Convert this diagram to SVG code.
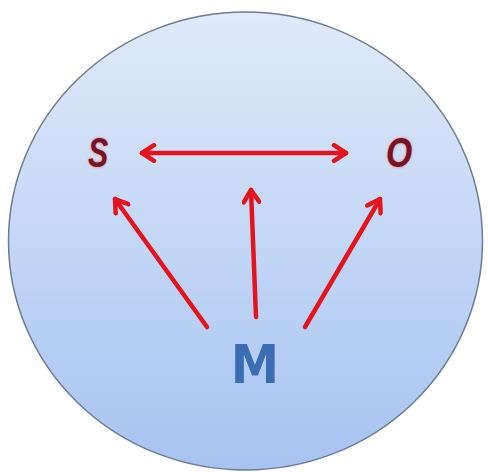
<svg xmlns="http://www.w3.org/2000/svg" width="488" height="472" viewBox="0 0 488 472">
<defs>
<linearGradient id="bg" x1="0" y1="0" x2="0" y2="1">
<stop offset="0" stop-color="#dfeafa"/>
<stop offset="1" stop-color="#a7c3f1"/>
</linearGradient>
<marker id="ah" viewBox="0 0 14 14" refX="11" refY="7" markerWidth="4.4" markerHeight="4.4" orient="auto-start-reverse" markerUnits="strokeWidth">
<path d="M2.5,1.5 L11,7 L2.5,12.5" fill="none" stroke="#e5141c" stroke-width="3.2" stroke-linecap="round" stroke-linejoin="round"/>
</marker>
<filter id="glow" x="-50%" y="-50%" width="200%" height="200%">
<feGaussianBlur stdDeviation="1.5"/>
</filter>
</defs>
<style>
.conn{stroke:#e5141c;stroke-width:4.5;fill:none;stroke-linecap:round}
.lblr{font-family:"Liberation Sans",Arial,sans-serif;font-weight:bold;font-style:italic;font-size:42px;fill:#741424;text-anchor:middle}
.halo{fill:#ff6a6a}
.lblm{font-family:"DejaVu Sans",sans-serif;font-weight:bold;font-size:54px;fill:#3b6db4;text-anchor:middle}
</style>
<rect width="488" height="472" fill="#ffffff"/>
<g id="circle">
<ellipse cx="245.5" cy="241" rx="237" ry="229" fill="url(#bg)" stroke="#6c7b91" stroke-width="1.5"/>
</g>
<g id="connectors">
<line class="conn" x1="142" y1="153" x2="346" y2="153" marker-start="url(#ah)" marker-end="url(#ah)"/>
<line class="conn" x1="207" y1="327" x2="115" y2="199" marker-end="url(#ah)"/>
<line class="conn" x1="256" y1="317" x2="251" y2="190" marker-end="url(#ah)"/>
<line class="conn" x1="305" y1="327" x2="380" y2="199" marker-end="url(#ah)"/>
</g>
<g id="node-s">
<g transform="translate(98,167) scale(0.72,1)">
<text class="lblr halo" x="0" y="0" filter="url(#glow)">S</text>
<text class="lblr" x="0" y="0">S</text>
</g>
</g>
<g id="node-o">
<g transform="translate(399,167) scale(0.8,1)">
<text class="lblr halo" x="0" y="0" filter="url(#glow)">O</text>
<text class="lblr" x="0" y="0">O</text>
</g>
</g>
<g id="node-m">
<text class="lblm" x="255" y="383" transform="translate(255,383) scale(0.9,1) translate(-255,-383)">M</text>
</g>
</svg>
